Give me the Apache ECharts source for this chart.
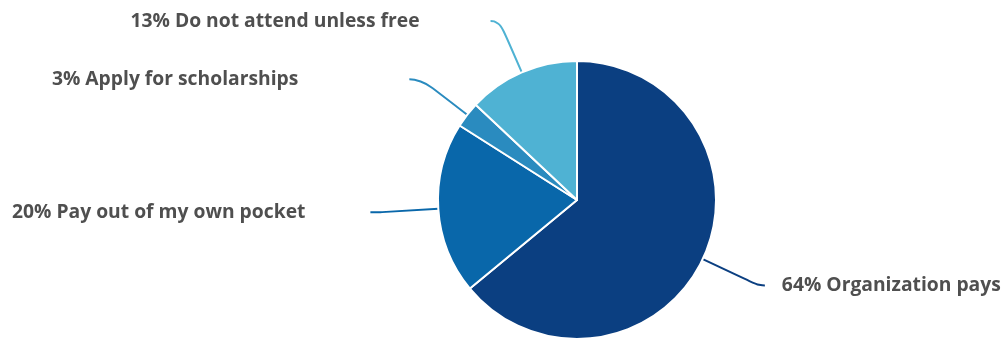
<!DOCTYPE html>
<html>
<head>
<meta charset="utf-8">
<script src="https://cdn.jsdelivr.net/npm/echarts@6/dist/echarts.min.js"></script>
<style>
  html, body { margin: 0; padding: 0; background: #ffffff; }
  #chart { width: 1006px; height: 339px; }
</style>
</head>
<body>
<div id="chart"></div>
<script>
// Who pays for attendance, share of respondents (%)
const categories = [
  'Organization pays',
  'Pay out of my own pocket',
  'Apply for scholarships',
  'Do not attend unless free'
];
const shares = [64, 20, 3, 13];
const sliceColors = ['#0b3f81', '#0967aa', '#2a8bbf', '#4fb2d3'];

// Per-slice leader line geometry and label gap
const leaderLength = [62, 58, 58, 56];
const leaderLength2 = [6, 10, 12, 9];
const labelGap = [17, 65, 111, 71];

const chart = echarts.init(document.getElementById('chart'), null, { renderer: 'canvas' });

const data = categories.map((name, i) => ({
  name: name,
  value: shares[i],
  itemStyle: { color: sliceColors[i] },
  label: { distanceToLabelLine: labelGap[i] },
  labelLine: {
    length: leaderLength[i],
    length2: leaderLength2[i],
    lineStyle: { color: sliceColors[i] }
  }
}));

chart.setOption({
  animation: false,
  series: [{
    type: 'pie',
    center: [577, 200],
    radius: 139,
    startAngle: 90,
    clockwise: true,
    avoidLabelOverlap: false,
    itemStyle: { borderColor: '#ffffff', borderWidth: 2 },
    label: {
      show: true,
      position: 'outside',
      formatter: p => p.value + '% ' + p.name,
      fontFamily: 'Open Sans',
      fontWeight: 'bold',
      fontSize: 19.3,
      color: '#4f4f4f'
    },
    labelLine: {
      show: true,
      smooth: 0.6,
      lineStyle: { width: 2 }
    },
    emphasis: { disabled: true },
    data: data
  }]
});
</script>
</body>
</html>
